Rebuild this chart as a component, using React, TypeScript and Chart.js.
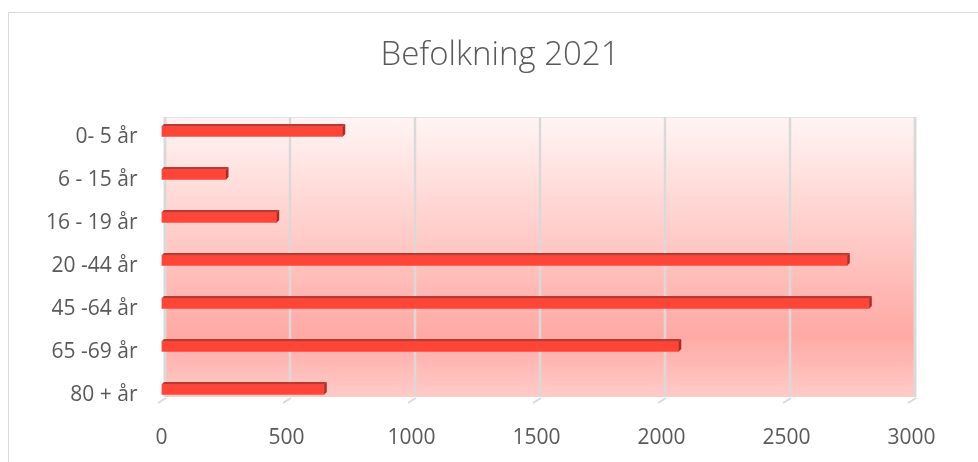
import React, { useEffect, useRef } from "react";
import { Chart, registerables } from "chart.js";

Chart.register(...registerables);

const titleText = "Befolkning 2021";
const categories = ["0- 5 år", "6 - 15 år", "16 - 19 år", "20 -44 år", "45 -64 år", "65 -69 år", "80 + år"];
const population = [725, 258, 461, 2743, 2831, 2069, 651];
const axisMin = 0;
const axisMax = 3000;
const axisStep = 500;

const TEXT = "#595959";
const GRID = "#d9d9d9";
const BACK_DX = 3.5;
const WALL_TOP_OFF = 7;
const WALL_BOTTOM_OFF = 14;
const BAR_DEPTH = 2.5;

const threeDPlugin = {
  id: "threeD",
  beforeDraw(chart: any) {
    const ctx = chart.ctx;
    ctx.save();
    ctx.fillStyle = "#ffffff";
    ctx.fillRect(0, 0, chart.width, chart.height);
    ctx.strokeStyle = GRID;
    ctx.lineWidth = 1;
    ctx.beginPath();
    ctx.moveTo(8.5, chart.height);
    ctx.lineTo(8.5, 12.5);
    ctx.lineTo(chart.width, 12.5);
    ctx.stroke();
    ctx.restore();
  },
  beforeDatasetsDraw(chart: any) {
    const { ctx, chartArea, scales } = chart;
    const xs = scales.x;
    const top = chartArea.top + WALL_TOP_OFF;
    const bottom = chartArea.bottom - WALL_BOTTOM_OFF;
    const left = xs.getPixelForValue(axisMin) + BACK_DX;
    const right = xs.getPixelForValue(axisMax) + BACK_DX;
    ctx.save();
    const g = ctx.createLinearGradient(0, top, 0, bottom);
    g.addColorStop(0, "#fff5f4");
    g.addColorStop(0.45, "#ffc9c5");
    g.addColorStop(0.78, "#ffa9a4");
    g.addColorStop(1, "#ffcbc7");
    ctx.fillStyle = g;
    ctx.fillRect(left, top, right - left, bottom - top);
    ctx.strokeStyle = "#e4e4e4";
    ctx.lineWidth = 1;
    ctx.beginPath();
    ctx.moveTo(left, top + 0.5);
    ctx.lineTo(right, top + 0.5);
    ctx.stroke();
    xs.ticks.forEach((t: any) => {
      const gx = xs.getPixelForValue(t.value) + BACK_DX;
      ctx.strokeStyle = GRID;
      ctx.lineWidth = t.value === axisMax || t.value === axisMin ? 3 : 2.5;
      ctx.beginPath();
      ctx.moveTo(gx, top);
      ctx.lineTo(gx, bottom);
      ctx.stroke();
      ctx.lineWidth = 2;
      ctx.beginPath();
      ctx.moveTo(gx + 1, bottom + 1);
      ctx.lineTo(gx - 7, bottom + 6);
      ctx.stroke();
    });
    ctx.restore();
  },
  afterDatasetsDraw(chart: any) {
    const ctx = chart.ctx;
    const meta = chart.getDatasetMeta(0);
    ctx.save();
    meta.data.forEach((bar: any) => {
      const p = bar.getProps(["x", "y", "base", "height"], true);
      const t = p.y - p.height / 2;
      const b = p.y + p.height / 2;
      const d = BAR_DEPTH;
      ctx.fillStyle = "#c0372e";
      ctx.beginPath();
      ctx.moveTo(p.base, t);
      ctx.lineTo(p.x, t);
      ctx.lineTo(p.x + d, t - d);
      ctx.lineTo(p.base + d, t - d);
      ctx.closePath();
      ctx.fill();
      ctx.fillStyle = "#a62c25";
      ctx.beginPath();
      ctx.moveTo(p.x, t);
      ctx.lineTo(p.x + d, t - d);
      ctx.lineTo(p.x + d, b - d);
      ctx.lineTo(p.x, b);
      ctx.closePath();
      ctx.fill();
    });
    ctx.restore();
  },
};

export default function App() {
  const ref = useRef<HTMLCanvasElement | null>(null);
  useEffect(() => {
    if (!ref.current) return;
    const chart = new Chart(ref.current, {
      type: "bar",
      data: {
        labels: categories,
        datasets: [
          {
            data: population,
            backgroundColor: "#ff4438",
            borderWidth: 0,
            barThickness: 10,
          },
        ],
      },
      options: {
        indexAxis: "y",
        animation: false,
        responsive: true,
        maintainAspectRatio: false,
        layout: { padding: { left: 22, right: 0, top: 0, bottom: 0 } },
        plugins: {
          legend: { display: false },
          tooltip: { enabled: false },
          title: {
            display: true,
            text: titleText,
            color: TEXT,
            font: { family: "'Open Sans', sans-serif", size: 33, weight: "300" as any, lineHeight: 1.2 },
            padding: { top: 35.7, bottom: 34.7 },
          },
        },
        scales: {
          x: {
            type: "linear",
            min: axisMin,
            max: axisMax,
            ticks: {
              stepSize: axisStep,
              color: TEXT,
              padding: 14,
              font: { family: "'Open Sans', sans-serif", size: 21 },
              callback: (v: any) => String(v),
            },
            grid: { display: false, drawTicks: false },
            border: { display: false },
            afterFit: (s: any) => {
              s.height = 51;
            },
          },
          y: {
            type: "category",
            ticks: {
              color: TEXT,
              padding: 24,
              labelOffset: 6,
              font: { family: "'Open Sans', sans-serif", size: 21 },
            },
            grid: { display: false, drawTicks: false },
            border: { display: false },
            afterFit: (s: any) => {
              s.width = 139.5;
            },
          },
          yRight: {
            type: "category",
            position: "right",
            display: true,
            ticks: { display: false },
            grid: { display: false, drawTicks: false },
            border: { display: false },
            afterFit: (s: any) => {
              s.width = 66.5;
            },
          },
        },
      },
      plugins: [threeDPlugin],
    });
    return () => chart.destroy();
  }, []);
  return (
    <div style={{ position: "absolute", left: 0, top: 0, width: 978, height: 462 }}>
      <canvas ref={ref} />
    </div>
  );
}
